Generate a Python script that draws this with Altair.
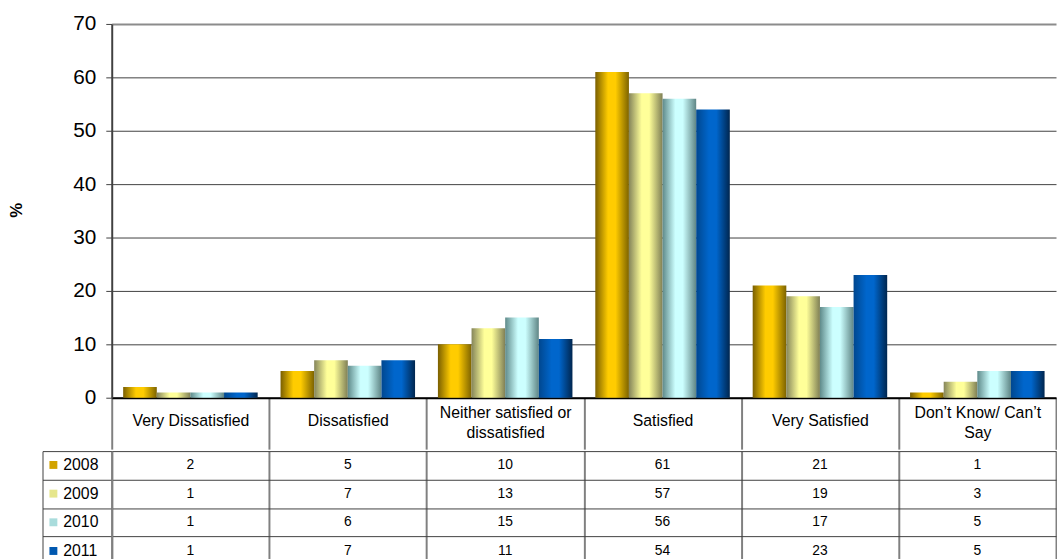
import altair as alt
import pandas as pd

# Satisfaction survey results (% of respondents) by year
categories = [
    "Very Dissatisfied",
    "Dissatisfied",
    "Neither satisfied or dissatisfied",
    "Satisfied",
    "Very Satisfied",
    "Don’t Know/ Can’t Say",
]
years = ["2008", "2009", "2010", "2011"]
v2008 = [2, 5, 10, 61, 21, 1]
v2009 = [1, 7, 13, 57, 19, 3]
v2010 = [1, 6, 15, 56, 17, 5]
v2011 = [1, 7, 11, 54, 23, 5]

# how the long category names wrap in the header row
wraps = {
    "Neither satisfied or dissatisfied": ["Neither satisfied or", "dissatisfied"],
    "Don’t Know/ Can’t Say": ["Don’t Know/ Can’t", "Say"],
}

# bar shading: dark edge -> bright centre -> dark edge
shades = {
    "2008": ("#7a5f00", "#ffcc00", "#7d6300"),
    "2009": ("#85855a", "#ffff99", "#7f7f55"),
    "2010": ("#5f8a8a", "#ccffff", "#5f8585"),
    "2011": ("#00478f", "#0066cc", "#00264f"),
}
key_colors = ["#d2a300", "#e6e68c", "#a9dcdc", "#0058b0"]

FONT = "Liberation Sans"

rows = []
for year, vals in zip(years, [v2008, v2009, v2010, v2011]):
    for cat, v in zip(categories, vals):
        rows.append({"category": cat, "year": year, "value": v})
df = pd.DataFrame(rows)


def js_list(items):
    return "[" + ", ".join('"' + s + '"' for s in items) + "]"


label_expr = "".join(
    f'datum.label == "{k}" ? {js_list(v)} : ' for k, v in wraps.items()
) + "datum.label"
wrapped_test = " || ".join(f'datum.value == "{k}"' for k in wraps)

x_scale = alt.Scale(domain=categories, paddingInner=0, paddingOuter=0)

x_top = alt.X(
    "category:N",
    sort=categories,
    scale=x_scale,
    axis=alt.Axis(
        title=None,
        domain=True,
        domainColor="#000000",
        domainWidth=2,
        ticks=True,
        tickBand="extent",
        tickSize=52,
        tickColor="#808080",
        tickWidth=2,
        labelAngle=0,
        labelFont=FONT,
        labelFontSize=16,
        labelColor="#000000",
        labelPadding={"condition": {"test": wrapped_test, "value": -37}, "value": -29},
        labelBaseline="middle",
        labelLineHeight=20,
        labelExpr=label_expr,
        grid=False,
    ),
)

y_top = alt.Y(
    "value:Q",
    scale=alt.Scale(domain=[0, 70], nice=False),
    axis=alt.Axis(
        values=[0, 10, 20, 30, 40, 50, 60, 70],
        title="%",
        titleFont=FONT,
        titleFontSize=17,
        titleFontWeight="bold",
        titleColor="#000000",
        titleAngle=270,
        titleAlign="center",
        titleBaseline="middle",
        titleX=-96,
        titleY=188,
        domainColor="#404040",
        domainWidth=2,
        tickColor="#404040",
        tickSize=6,
        tickWidth=1,
        labelFont=FONT,
        labelFontSize=21,
        labelColor="#000000",
        labelPadding=10,
        grid=True,
        gridColor={"condition": {"test": "datum.value === 70", "value": "#8c8c8c"}, "value": "#404040"},
        gridWidth={"condition": {"test": "datum.value === 70", "value": 2}, "value": 1},
    ),
)

offset = alt.XOffset(
    "year:N",
    sort=years,
    scale=alt.Scale(domain=years, paddingInner=0, paddingOuter=0.34),
)

bar_layers = []
for year in years:
    dark, bright, dark2 = shades[year]
    grad = alt.Gradient(
        gradient="linear",
        stops=[
            alt.GradientStop(color=dark, offset=0),
            alt.GradientStop(color=bright, offset=0.38),
            alt.GradientStop(color=bright, offset=0.6),
            alt.GradientStop(color=dark2, offset=1),
        ],
        x1=0, x2=1, y1=0, y2=0,
    )
    bar_layers.append(
        alt.Chart(df)
        .transform_filter(alt.datum.year == year)
        .mark_bar(fill=grad, strokeWidth=0)
        .encode(x=x_top, xOffset=offset, y=y_top)
    )

bars = alt.layer(*bar_layers).properties(width=955, height=378)

# data table under the bars
x_tab_axis = alt.Axis(
    title=None, labels=False, ticks=False, domain=False,
    grid=True, tickBand="extent", gridColor="#808080", gridWidth=2,
)
x_tab = alt.X("category:N", sort=categories, scale=x_scale, axis=x_tab_axis)

cells = alt.Chart(df).mark_text(font=FONT, fontSize=14, color="#000000").encode(
    x=x_tab,
    y=alt.Y(
        "year:N",
        sort=years,
        scale=alt.Scale(domain=years, paddingInner=0, paddingOuter=0),
        axis=alt.Axis(
            title=None, labels=False, domain=True, domainColor="#808080", domainWidth=2,
            grid=True, gridColor="#404040", gridWidth=1, tickBand="extent",
            ticks=True, tickSize=70, tickColor="#404040", tickWidth=1,
        ),
    ),
    text="value:Q",
)

key = alt.Chart(df).mark_square(opacity=0, size=10).encode(
    x=x_tab,
    y=alt.Y(
        "year:N",
        sort=years,
        scale=alt.Scale(domain=years, paddingInner=0, paddingOuter=0),
        axis=alt.Axis(
            title=None, orient="left", offset=70, labels=False, ticks=False, grid=False,
            domain=True, domainColor="#404040", domainWidth=1,
        ),
    ),
    color=alt.Color(
        "year:N",
        sort=years,
        scale=alt.Scale(domain=years, range=key_colors),
        legend=alt.Legend(
            orient="none", legendX=-67, legendY=438, title=None,
            symbolType="square", symbolSize=64, symbolOpacity=1, symbolStrokeWidth=0,
            labelFont=FONT, labelFontSize=16, labelColor="#000000", labelOffset=2,
            rowPadding=13, padding=0,
        ),
    ),
)

table = alt.layer(cells, key).resolve_axis(y="independent").properties(width=955, height=115)

chart = (
    alt.vconcat(bars, table, spacing=0)
    .properties(padding={"left": 8, "top": 10, "right": 0, "bottom": 0}, background="#ffffff")
    .configure_view(stroke=None)
)

chart.save("out.html", embed_options={"renderer": "svg", "actions": False})
